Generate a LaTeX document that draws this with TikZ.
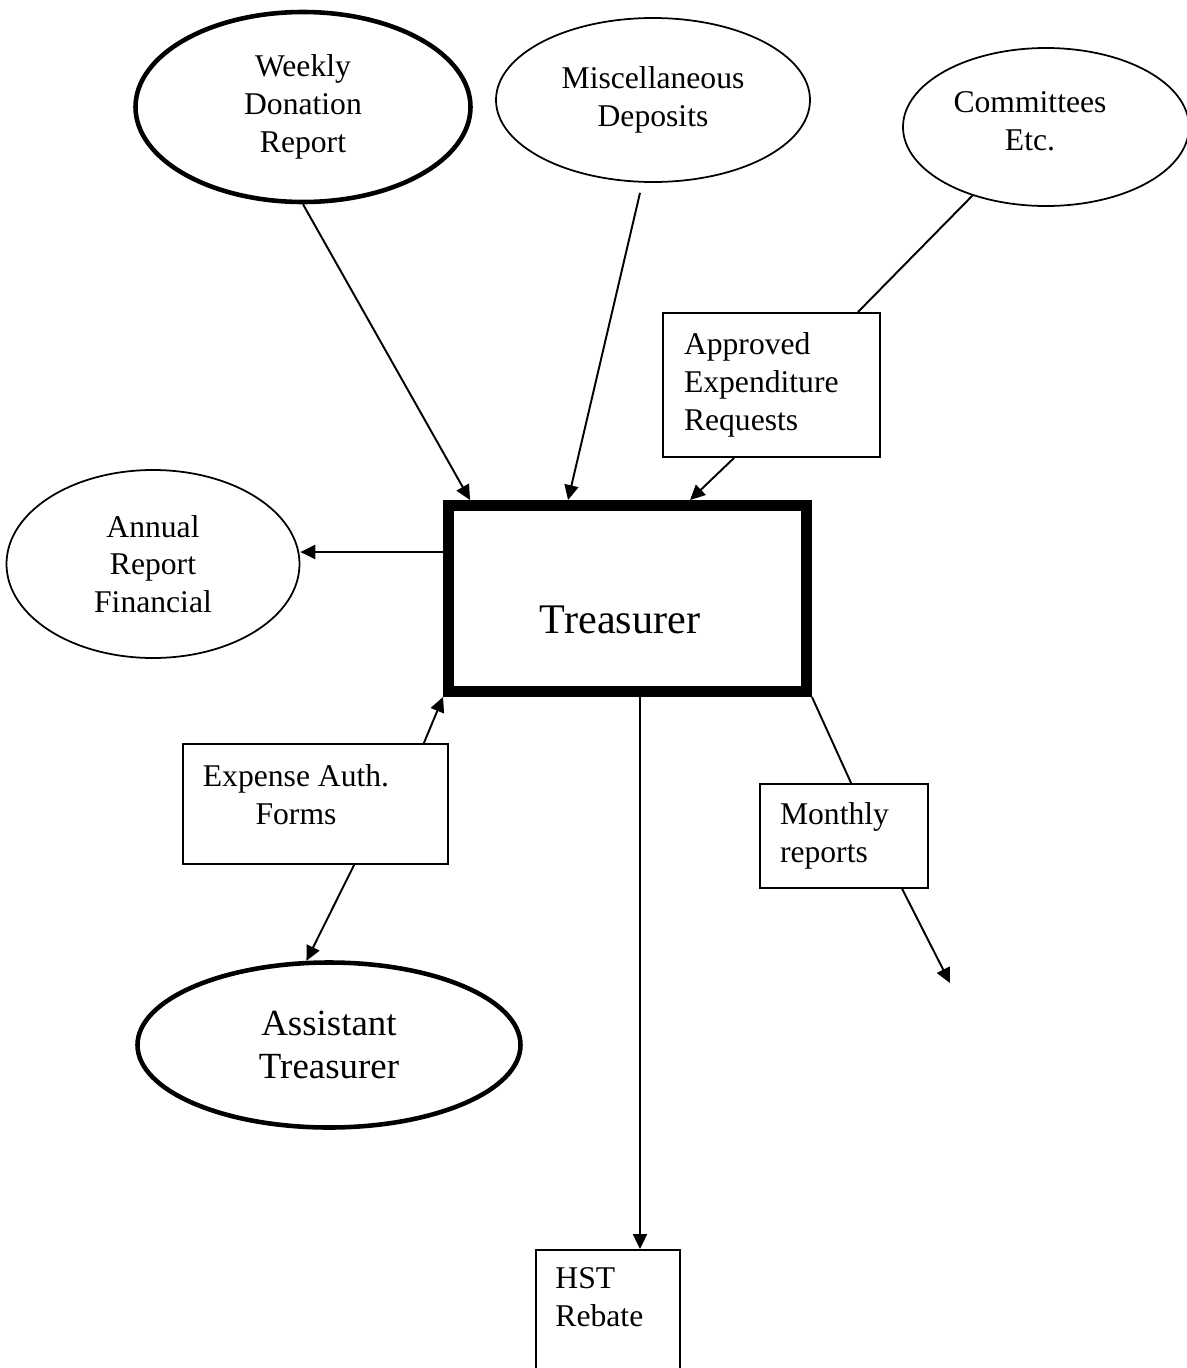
\documentclass[tikz,border=0pt]{standalone}
\usepackage{fontspec}
\setmainfont{Liberation Serif}
\usetikzlibrary{arrows.meta,positioning,shapes.geometric}
\tikzset{
  oval/.style={ellipse,draw,line width=1pt,align=center,inner sep=0pt,
               font=\fontsize{18}{21.5}\selectfont},
  boldoval/.style={oval,line width=2.6pt},
  docbox/.style={rectangle,draw,line width=1pt,inner sep=0pt,
                 font=\fontsize{18}{21.5}\selectfont},
  lbl/.style={align=center,inner sep=0pt,font=\fontsize{18}{21.5}\selectfont},
  arr/.style={-{Triangle[length=8.5pt,width=8pt]},line width=1.1pt},
  link/.style={line width=1.1pt},
}
\begin{document}
\begin{tikzpicture}
    \useasboundingbox (0,0) rectangle (23.72,-27.36);

    \node[boldoval,minimum width=6.7cm,minimum height=3.8cm] (weekly)
          at (6.06,-2.14) {Weekly\\Donation\\Report};
    \node[oval,minimum width=6.28cm,minimum height=3.28cm] (misc)
          at (13.06,-2.0) {Miscellaneous\\Deposits};
    \node[oval,minimum width=5.72cm,minimum height=3.16cm,
          label={[lbl,shift={(-0.32cm,0.12cm)}]center:Committees\\Etc.}] (comm)
          at (20.92,-2.54) {};
    \node[docbox,align=left,text width=3.5cm,inner xsep=0.42cm,
          minimum height=2.88cm] (approved)
          at (15.43,-7.7) {Approved\\Expenditure\\Requests};
    \node[docbox,line width=6.2pt,minimum width=7.16cm,minimum height=3.72cm,
          label={[lbl,font=\fontsize{24}{28}\selectfont,
                  shift={(-0.15cm,-0.43cm)}]center:Treasurer}] (treasurer)
          at (12.55,-11.97) {};
    \node[oval,minimum width=5.86cm,minimum height=3.76cm] (annual)
          at (3.06,-11.28) {Annual\\Report\\Financial};
    \node[docbox,minimum width=5.3cm,minimum height=2.4cm,
          label={[lbl,shift={(-0.39cm,0.18cm)}]center:Expense Auth.\\Forms}] (expense)
          at (6.31,-16.08) {};
    \node[docbox,align=left,text width=2.56cm,inner xsep=0.4cm,
          minimum height=2.08cm] (monthly)
          at (16.88,-16.72) {Monthly\\reports};
    \node[boldoval,minimum width=7.66cm,minimum height=3.3cm,
          font=\fontsize{21}{24}\selectfont] (assistant)
          at (6.58,-20.9) {Assistant\\Treasurer};
    \node[docbox,minimum width=2.88cm,minimum height=3cm,anchor=north] (hst)
          at (12.16,-24.98) {};
    \node[lbl,anchor=north west,align=left] (hsttext)
          at ([shift={(0.4cm,-0.36cm)}]hst.north west) {HST\\Rebate};

    \draw[arr] (weekly.south) -- ([xshift=0.54cm]treasurer.north west);
    \draw[arr] ([shift={(-0.26cm,-0.2cm)}]misc.south)
          -- ([xshift=2.5cm]treasurer.north west);
    \draw[link] (comm.223) -- ([xshift=-0.46cm]approved.north east);
    \draw[arr] ([xshift=1.44cm]approved.south west)
          -- ([xshift=4.94cm]treasurer.north west);
    \draw[arr] ([yshift=0.93cm]treasurer.west)
          -- ([yshift=0.93cm]treasurer.west -| annual.east);
    \draw[arr] ([xshift=-0.5cm]expense.north east) -- (treasurer.south west);
    \draw[arr] ([xshift=3.44cm]expense.south west) -- (assistant.105);
    \draw[arr] ([xshift=0.25cm]treasurer.south)
          -- ([xshift=0.25cm]treasurer.south |- hst.north);
    \draw[link] (treasurer.south east) -- ([xshift=1.84cm]monthly.north west);
    \coordinate (mout) at (19.0,-19.66);
    \draw[arr] ([xshift=2.86cm]monthly.south west) -- (mout);
\end{tikzpicture}
\end{document}
